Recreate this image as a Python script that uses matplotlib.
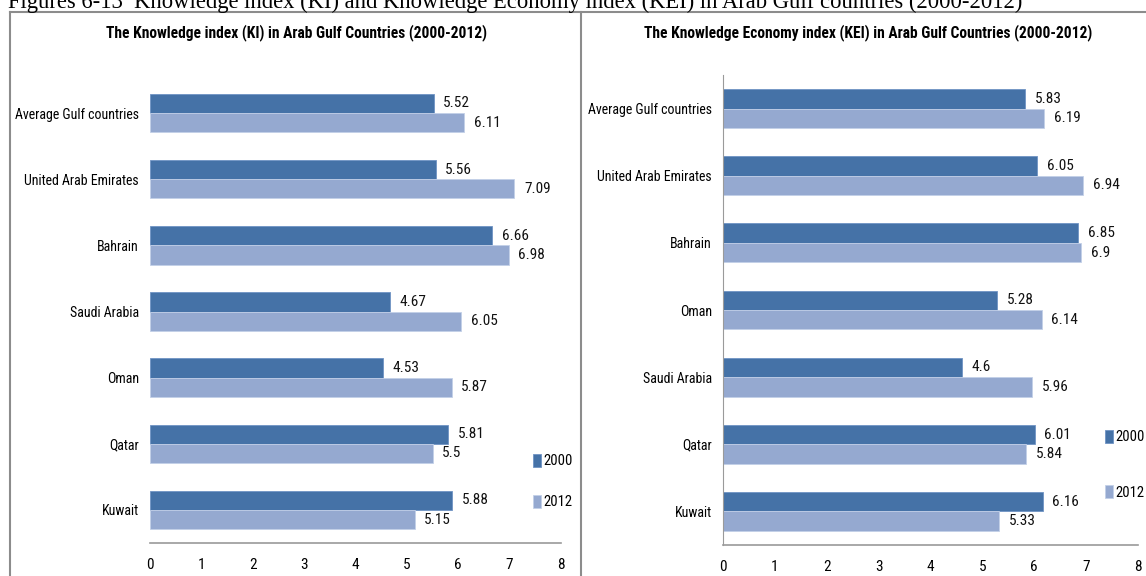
import matplotlib
matplotlib.use("Agg")
import matplotlib.pyplot as plt
from matplotlib.lines import Line2D
import numpy as np

# data
ki_countries = ["Average Gulf countries", "United Arab Emirates", "Bahrain", "Saudi Arabia", "Oman", "Qatar", "Kuwait"]
ki_2000 = [5.52, 5.56, 6.66, 4.67, 4.53, 5.81, 5.88]
ki_2012 = [6.11, 7.09, 6.98, 6.05, 5.87, 5.5, 5.15]

kei_countries = ["Average Gulf countries", "United Arab Emirates", "Bahrain", "Oman", "Saudi Arabia", "Qatar", "Kuwait"]
kei_2000 = [5.83, 6.05, 6.85, 5.28, 4.6, 6.01, 6.16]
kei_2012 = [6.19, 6.94, 6.9, 6.14, 5.96, 5.84, 5.33]

years = ["2000", "2012"]
x_ticks = [0, 1, 2, 3, 4, 5, 6, 7, 8]

caption = "Figures 6-13  Knowledge index (KI) and Knowledge Economy index (KEI) in Arab Gulf countries (2000-2012)"
ki_title = "The Knowledge index (KI) in Arab Gulf Countries (2000-2012)"
kei_title = "The Knowledge Economy index (KEI) in Arab Gulf Countries (2000-2012)"

dark = "#4572A7"
light = "#95A9D0"
font = ["Roboto Condensed", "DejaVu Sans"]

W, H = 1146, 576
fig = plt.figure(figsize=(W / 100, H / 100), dpi=100)


def px_axes(x0, y0, x1, y1):
    # axes from pixel box (top-left origin)
    return fig.add_axes([x0 / W, 1 - y1 / H, (x1 - x0) / W, (y1 - y0) / H])


def draw_panel(ax, countries, v2000, v2012, title, title_x, leg_anchor, leg_space, show_left):
    y = np.arange(len(countries))
    h = 0.29
    b1 = ax.barh(y - h / 2, v2000, height=h, color=dark, edgecolor="#6F93C4", linewidth=0.6, label=years[0])
    b2 = ax.barh(y + h / 2, v2012, height=h, color=light, edgecolor="#C3D0E8", linewidth=0.6, label=years[1])
    for bars, vals in ((b1, v2000), (b2, v2012)):
        for bar, v in zip(bars, vals):
            ax.annotate("{:g}".format(v), (v, bar.get_y() + bar.get_height() / 2),
                        xytext=(7, 0), textcoords="offset points", va="center", ha="left",
                        fontsize=11, family=font, color="#111111")
    ax.set_xlim(0, 8)
    ax.set_ylim(len(countries) - 0.5, -0.5)
    ax.set_xticks(x_ticks)
    ax.set_yticks(y)
    ax.set_yticklabels(countries)
    for lab in ax.get_xticklabels():
        lab.set_family(font)
        lab.set_fontsize(11)
    for lab in ax.get_yticklabels():
        lab.set_family(font)
        lab.set_fontsize(10)
    ax.tick_params(axis="x", length=0, pad=11)
    ax.tick_params(axis="y", length=0, pad=8)
    for s in ["top", "right"]:
        ax.spines[s].set_visible(False)
    ax.spines["left"].set_visible(show_left)
    ax.spines["left"].set_color("#9A9A9A")
    ax.spines["bottom"].set_color("#9A9A9A")
    ax.spines["bottom"].set_linewidth(1.2)
    fig.text(title_x / W, 1 - 33 / H, title, ha="center", va="center",
             fontsize=11.2, fontweight="bold", family=font)
    ax.legend(loc="upper left", bbox_to_anchor=(leg_anchor[0] / W, 1 - leg_anchor[1] / H),
              bbox_transform=fig.transFigure, frameon=False, handlelength=0.55, handleheight=1.0,
              handletextpad=0.2, labelspacing=leg_space, borderaxespad=0,
              prop={"family": font, "size": 10.5})


ax1 = px_axes(150, 80, 561, 543)
draw_panel(ax1, ki_countries, ki_2000, ki_2012, ki_title, 296, (527, 448), 1.8, False)

ax2 = px_axes(723, 75, 1138, 545)
draw_panel(ax2, kei_countries, kei_2000, kei_2012, kei_title, 868, (1099, 424), 2.8, True)

# panel frames
grey = "#8C8C8C"
fig.add_artist(Line2D([10 / W, 1], [1 - 12 / H, 1 - 12 / H], color=grey, lw=1.5, transform=fig.transFigure))
fig.add_artist(Line2D([10 / W, 10 / W], [0, 1 - 12 / H], color=grey, lw=1.5, transform=fig.transFigure))
fig.add_artist(Line2D([581 / W, 581 / W], [0, 1 - 12 / H], color=grey, lw=1.5, transform=fig.transFigure))

# caption, partly cut by the top edge
fig.text(8 / W, 1 - 8 / H, caption, ha="left", va="baseline", fontsize=16.3,
         family=["Liberation Serif", "DejaVu Serif"])

fig.savefig("out.png", dpi=100)
